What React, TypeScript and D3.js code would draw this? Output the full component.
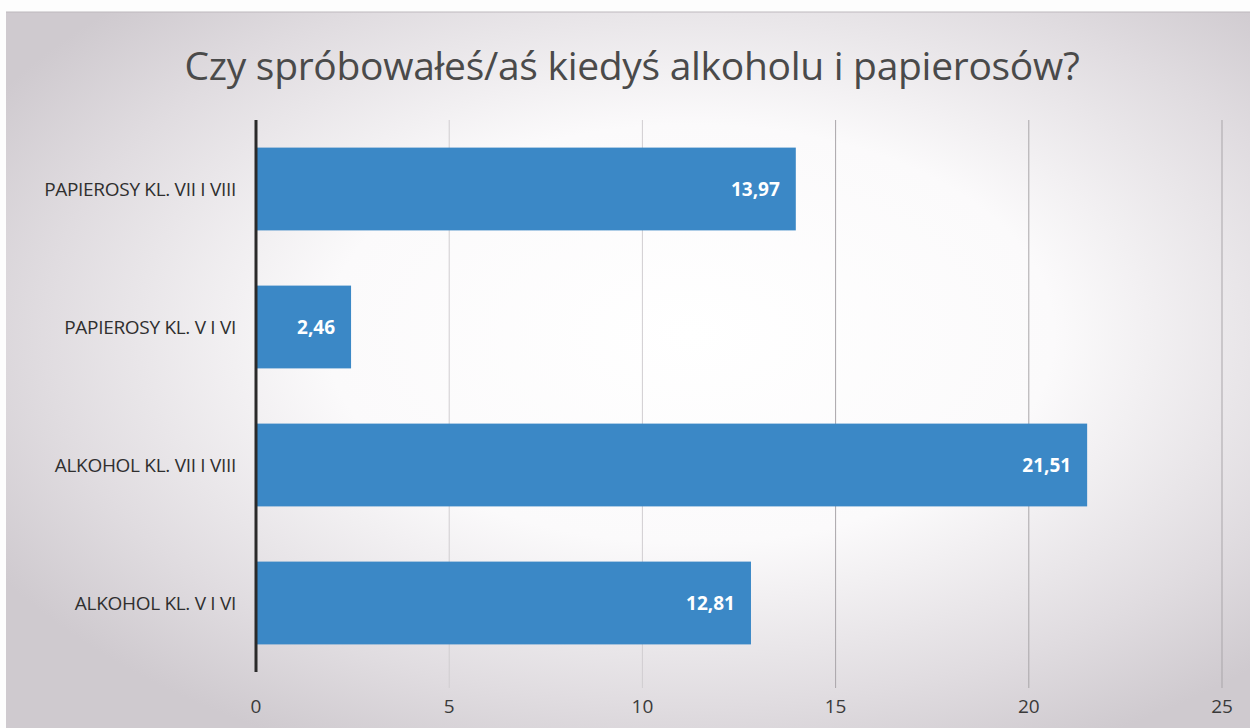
import React from "react";
import * as d3 from "d3";

const categories = [
  "PAPIEROSY KL. VII I VIII",
  "PAPIEROSY KL. V I VI",
  "ALKOHOL KL. VII I VIII",
  "ALKOHOL KL. V I VI",
];
const values = [13.97, 2.46, 21.51, 12.81];
const valueLabels = ["13,97", "2,46", "21,51", "12,81"];
const xTicks = [0, 5, 10, 15, 20, 25];
const title = "Czy spróbowałeś/aś kiedyś alkoholu i papierosów?";

const W = 1250;
const H = 728;
const M = { left: 256, right: 28, top: 120, bottom: 56 };

export default function App() {
  const x = d3.scaleLinear().domain([0, 25]).range([M.left, 1222]);
  const y = d3
    .scaleBand<string>()
    .domain(categories)
    .range([M.top, H - M.bottom])
    .paddingInner(0.4)
    .paddingOuter(0.2);
  const font = "'Open Sans', 'Noto Sans', sans-serif";
  return (
    <svg
      width={W}
      height={H}
      style={{ position: "absolute", left: 0, top: 0, display: "block" }}
    >
      <defs>
        <radialGradient id="bg" cx="0.55" cy="0.45" r="0.65">
          <stop offset="0" stopColor="#ffffff" />
          <stop offset="0.45" stopColor="#fbfafb" />
          <stop offset="0.8" stopColor="#e0dce0" />
          <stop offset="1" stopColor="#cfcacf" />
        </radialGradient>
      </defs>
      <rect x={0} y={0} width={W} height={H} fill="#fdfdfd" />
      <rect x={6} y={12} width={W - 6} height={H - 12} fill="url(#bg)" />
      <line x1={6} x2={W} y1={12} y2={12} stroke="#bdb8bd" strokeWidth={1} />
      <text
        x={632}
        y={80}
        textAnchor="middle"
        fontFamily={font}
        fontSize={39}
        fill="#4a4a4a"
        style={{ letterSpacing: "-0.3px" }}
      >
        {title}
      </text>
      {xTicks.slice(1).map((t) => (
        <line
          key={t}
          x1={x(t)}
          x2={x(t)}
          y1={M.top}
          y2={H - M.bottom + 16}
          stroke={t === 5 || t === 10 ? "#d0cdd0" : "#a9a5a9"}
          strokeWidth={1}
        />
      ))}
      {categories.map((c, i) => (
        <g key={c}>
          <rect
            x={x(0)}
            y={y(c)!}
            width={x(values[i]) - x(0)}
            height={y.bandwidth()}
            fill="#3b88c6"
          />
          <text
            x={x(values[i]) - 16}
            y={y(c)! + y.bandwidth() / 2}
            dy="0.35em"
            textAnchor="end"
            fontFamily={font}
            fontWeight={700}
            fontSize={19}
            fill="#ffffff"
          >
            {valueLabels[i]}
          </text>
          <text
            x={236}
            y={y(c)! + y.bandwidth() / 2}
            dy="0.35em"
            textAnchor="end"
            fontFamily={font}
            fontSize={19}
            fill="#2f2f2f"
            style={{ letterSpacing: "-0.3px" }}
          >
            {c}
          </text>
        </g>
      ))}
      <line
        x1={x(0)}
        x2={x(0)}
        y1={M.top}
        y2={H - M.bottom}
        stroke="#2a2a2a"
        strokeWidth={3}
      />
      {xTicks.map((t) => (
        <text
          key={t}
          x={x(t)}
          y={713}
          textAnchor="middle"
          fontFamily={font}
          fontSize={19}
          fill="#3a3a3a"
        >
          {t}
        </text>
      ))}
    </svg>
  );
}
